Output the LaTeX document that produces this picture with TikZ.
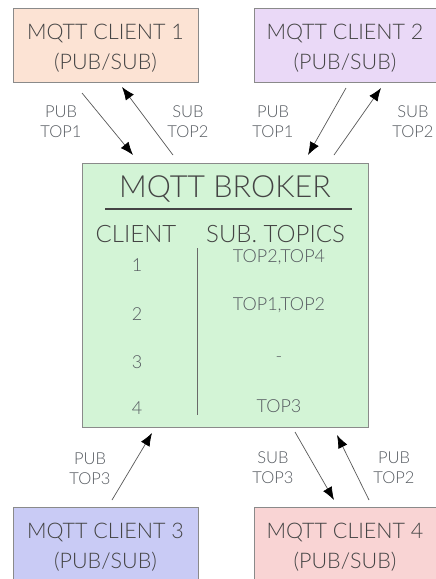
\documentclass[tikz,border=0pt]{standalone}
\usepackage{fontspec}
\setmainfont{Lato Light}
\usetikzlibrary{arrows.meta}
\definecolor{txt}{HTML}{444444}
\definecolor{lbl}{HTML}{555A60}
\definecolor{bd}{HTML}{8A8A8A}
\definecolor{cA}{HTML}{FCE3D4}
\definecolor{cB}{HTML}{EAD9F7}
\definecolor{cC}{HTML}{C9CBF5}
\definecolor{cD}{HTML}{F9D4D4}
\definecolor{cBr}{HTML}{D3F4D6}
\tikzset{
  client/.style={draw=bd, line width=0.8pt, minimum width=185pt, minimum height=74pt, inner sep=0pt},
  ctext/.style={align=center, text=txt, font=\fontsize{21.5}{30}\selectfont, inner sep=0pt},
  lab/.style={align=center, text=lbl, font=\fontsize{16.5}{20}\selectfont, inner sep=0pt},
  conn/.style={draw=black!65, line width=0.7pt, -{Latex[length=13pt,width=10pt,color=black]}},
  hdr/.style={text=txt, font=\fontsize{24}{26}\selectfont, inner sep=0pt},
  row/.style={text=lbl, font=\fontsize{18}{20}\selectfont, inner sep=0pt}
}
\begin{document}
\begin{tikzpicture}[x=1pt,y=-1pt]
\useasboundingbox (0,0) rectangle (436,579);
\fill[white] (0,0) rectangle (436,579);
% boxes
\node[client, fill=cA] (c1) at (105.5,45) {};
\node[client, fill=cB, minimum width=182pt] (c2) at (345,45) {};
\node[client, fill=cC] (c3) at (105.5,544) {};
\node[client, fill=cD, minimum width=182pt] (c4) at (345,544) {};
\node[ctext] (c1t) at (105.5,48) {MQTT CLIENT 1\\(PUB/SUB)};
\node[ctext] (c2t) at (345,48) {MQTT CLIENT 2\\(PUB/SUB)};
\node[ctext] (c3t) at (105.5,547) {MQTT CLIENT 3\\(PUB/SUB)};
\node[ctext] (c4t) at (345,547) {MQTT CLIENT 4\\(PUB/SUB)};
\node[draw=bd, line width=0.8pt, fill=cBr, minimum width=286pt, minimum height=264pt, inner sep=0pt] (br) at (225,295) {};
% broker content
\node[text=txt, font=\fontsize{30.5}{32}\selectfont, inner sep=0pt] (title) at (225,189) {MQTT BROKER};
\draw[txt, line width=1.2pt] (105,209) -- (352,209);
\node[hdr] (hc) at (136,234) {CLIENT};
\node[hdr] (ht) at (275.5,234) {SUB. TOPICS};
\draw[txt!80, line width=0.9pt] (197,248) -- (197,415);
\node[row] (r1) at (137,265) {1};
\node[row] (r2) at (137,314) {2};
\node[row] (r3) at (137,362) {3};
\node[row] (r4) at (137,408) {4};
\node[row] (t1) at (279,257) {TOP2,TOP4};
\node[row] (t2) at (279,305) {TOP1,TOP2};
\node[row] (t3) at (279,360) {-};
\node[row] (t4) at (279,406) {TOP3};
% connector endpoints
\coordinate (a1s) at (82,93);  \coordinate (a1e) at (133,155);
\coordinate (b1s) at (173,155); \coordinate (b1e) at (122,87);
\coordinate (a2s) at (346,88); \coordinate (a2e) at (308,155);
\coordinate (b2s) at (334,155); \coordinate (b2e) at (381,88);
\coordinate (a3s) at (112,500); \coordinate (a3e) at (152,433);
\coordinate (a4s) at (295,432); \coordinate (a4e) at (334,500);
\coordinate (b4s) at (369,500); \coordinate (b4e) at (337,435);
\draw[conn] (a1s) -- (a1e);
\draw[conn] (b1s) -- (b1e);
\draw[conn] (a2s) -- (a2e);
\draw[conn] (b2s) -- (b2e);
\draw[conn] (a3s) -- (a3e);
\draw[conn] (a4s) -- (a4e);
\draw[conn] (b4s) -- (b4e);
% labels
\node[lab] (l1) at (61,122) {PUB\\TOP1};
\node[lab] (l2) at (188,122) {SUB\\TOP2};
\node[lab] (l3) at (273,122) {PUB\\TOP1};
\node[lab] (l4) at (413,122) {SUB\\TOP2};
\node[lab] (l5) at (90,469) {PUB\\TOP3};
\node[lab] (l6) at (273,468) {SUB\\TOP3};
\node[lab] (l7) at (394,468) {PUB\\TOP2};
\end{tikzpicture}
\end{document}
